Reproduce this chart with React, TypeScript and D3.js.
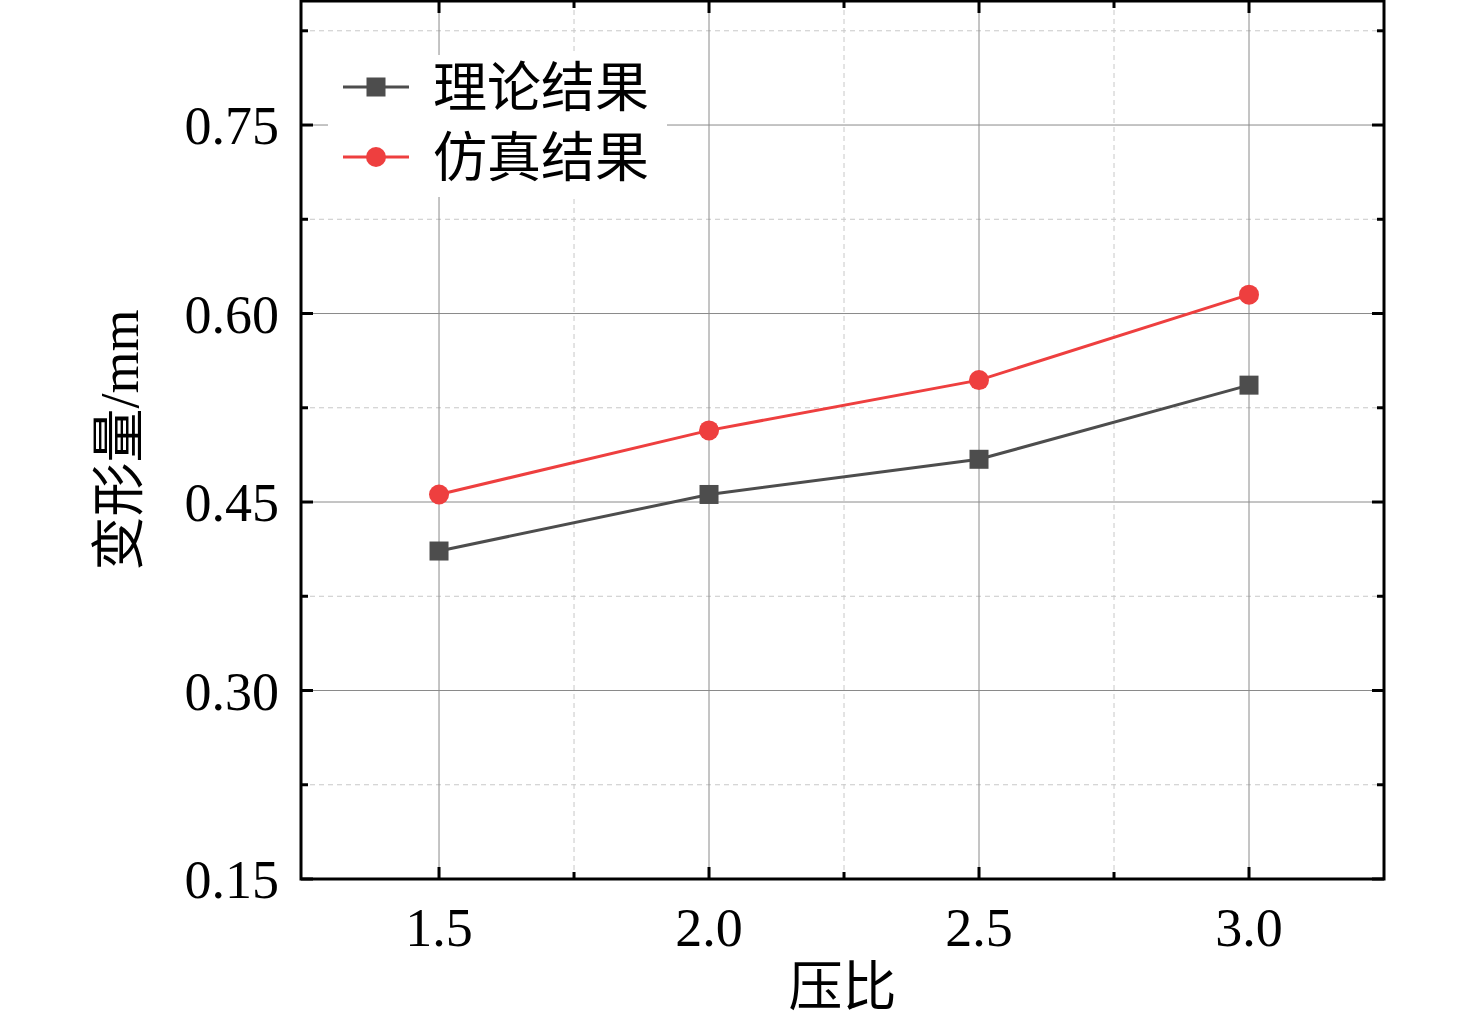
import * as d3 from 'd3';

// compression ratio vs deformation
const ratios = [1.5, 2.0, 2.5, 3.0];
const theory = [0.411, 0.456, 0.484, 0.543];
const simulation = [0.456, 0.507, 0.547, 0.615];
const xTicks = [1.5, 2.0, 2.5, 3.0];
const xMinor = [1.75, 2.25, 2.75];
const yTicks = [0.15, 0.3, 0.45, 0.6, 0.75];
const yMinor = [0.225, 0.375, 0.525, 0.675, 0.825];
const seriesNames = ['理论结果', '仿真结果'];

const W = 1476;
const H = 1022;
const m = { left: 301, right: 1384, top: 1, bottom: 879 };
const FONT = '"Liberation Serif", "Times New Roman", "Noto Sans CJK SC", serif';
const DARK = '#4d4d4d';
const RED = '#ee3f3f';

export default function App() {
  const x = d3.scaleLinear().domain([1.2444, 3.25]).range([m.left, m.right]);
  const y = d3.scaleLinear().domain([0.15, 0.8487]).range([m.bottom, m.top]);

  const line = d3.line<number>()
    .x((_, i) => x(ratios[i]))
    .y((d) => y(d));

  return (
    <svg width={W} height={H} style={{ position: 'absolute', left: 0, top: 0, background: '#fff' }}>
      {/* minor grid */}
      {xMinor.map((t) => (
        <line key={'xm' + t} x1={x(t)} x2={x(t)} y1={m.top} y2={m.bottom} stroke="#c8c8c8" strokeWidth={1} strokeDasharray="5,4" />
      ))}
      {yMinor.map((t) => (
        <line key={'ym' + t} x1={m.left} x2={m.right} y1={y(t)} y2={y(t)} stroke="#c8c8c8" strokeWidth={1} strokeDasharray="5,4" />
      ))}
      {/* major grid */}
      {xTicks.map((t) => (
        <line key={'xg' + t} x1={x(t)} x2={x(t)} y1={m.top} y2={m.bottom} stroke="#8a8a8a" strokeWidth={1} />
      ))}
      {yTicks.map((t) => (
        <line key={'yg' + t} x1={m.left} x2={m.right} y1={y(t)} y2={y(t)} stroke="#8a8a8a" strokeWidth={1} />
      ))}

      {/* ticks, inward on all sides */}
      {xTicks.map((t) => (
        <g key={'xt' + t}>
          <line x1={x(t)} x2={x(t)} y1={m.bottom} y2={m.bottom - 12} stroke="#000" strokeWidth={3} />
          <line x1={x(t)} x2={x(t)} y1={m.top} y2={m.top + 12} stroke="#000" strokeWidth={3} />
          <text x={x(t)} y={m.bottom + 67} textAnchor="middle" fontFamily={FONT} fontSize={54}>{t.toFixed(1)}</text>
        </g>
      ))}
      {xMinor.map((t) => (
        <g key={'xmt' + t}>
          <line x1={x(t)} x2={x(t)} y1={m.bottom} y2={m.bottom - 7} stroke="#000" strokeWidth={3} />
          <line x1={x(t)} x2={x(t)} y1={m.top} y2={m.top + 7} stroke="#000" strokeWidth={3} />
        </g>
      ))}
      {yTicks.map((t) => (
        <g key={'yt' + t}>
          <line x1={m.left} x2={m.left + 12} y1={y(t)} y2={y(t)} stroke="#000" strokeWidth={3} />
          <line x1={m.right} x2={m.right - 12} y1={y(t)} y2={y(t)} stroke="#000" strokeWidth={3} />
          <text x={m.left - 22} y={y(t) + 19} textAnchor="end" fontFamily={FONT} fontSize={54}>{t.toFixed(2)}</text>
        </g>
      ))}
      {yMinor.map((t) => (
        <g key={'ymt' + t}>
          <line x1={m.left} x2={m.left + 7} y1={y(t)} y2={y(t)} stroke="#000" strokeWidth={3} />
          <line x1={m.right} x2={m.right - 7} y1={y(t)} y2={y(t)} stroke="#000" strokeWidth={3} />
        </g>
      ))}

      {/* series */}
      <path d={line(theory)!} fill="none" stroke={DARK} strokeWidth={3} />
      <path d={line(simulation)!} fill="none" stroke={RED} strokeWidth={3} />
      {theory.map((v, i) => (
        <rect key={'s' + i} x={x(ratios[i]) - 9.5} y={y(v) - 9.5} width={19} height={19} fill={DARK} />
      ))}
      {simulation.map((v, i) => (
        <circle key={'c' + i} cx={x(ratios[i])} cy={y(v)} r={10} fill={RED} />
      ))}

      {/* legend */}
      <rect x={328} y={55} width={339} height={142} fill="#fff" />
      {seriesNames.map((name, i) => {
        const ly = 87 + i * 70;
        const color = i === 0 ? DARK : RED;
        return (
          <g key={name}>
            <line x1={343} x2={409} y1={ly} y2={ly} stroke={color} strokeWidth={3} />
            {i === 0
              ? <rect x={376 - 9.5} y={ly - 9.5} width={19} height={19} fill={color} />
              : <circle cx={376} cy={ly} r={10} fill={color} />}
            <text x={433} y={ly + 20} fontFamily={FONT} fontSize={54}>{name}</text>
          </g>
        );
      })}

      {/* frame */}
      <rect x={m.left} y={m.top} width={m.right - m.left} height={m.bottom - m.top} fill="none" stroke="#000" strokeWidth={3} />

      {/* axis titles */}
      <text x={(m.left + m.right) / 2} y={1006} textAnchor="middle" fontFamily={FONT} fontSize={54}>压比</text>
      <text transform={`translate(138, 440) rotate(-90)`} textAnchor="middle" fontFamily={FONT} fontSize={54}>变形量/mm</text>
    </svg>
  );
}
